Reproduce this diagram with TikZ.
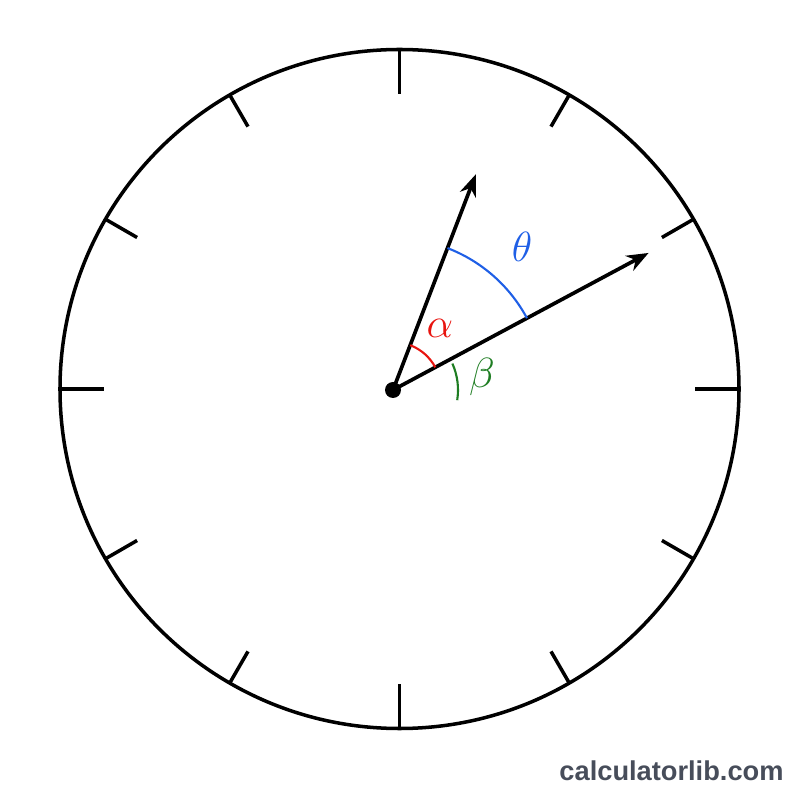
\documentclass[tikz,border=0pt]{standalone}
\usepackage{fontspec}
\newfontfamily\sitefont{Liberation Sans}
\usetikzlibrary{arrows.meta}
\definecolor{alphared}{HTML}{E8140F}
\definecolor{betagreen}{HTML}{1E7D22}
\definecolor{thetablue}{HTML}{1F5FE6}
\definecolor{sitegray}{HTML}{474D5A}
\tikzset{
  hand/.style={line width=1.05pt,-{Stealth[length=6.2pt,width=4.8pt]}},
  anglearc/.style={line width=0.6pt},
  anglelabel/.style={font=\fontsize{12.6}{15}\selectfont},
}
\begin{document}
\begin{tikzpicture}[line width=1pt]
  \useasboundingbox (-3.995,-4.11) rectangle (4.005,3.89);
  % dial
  \draw (0,0) circle (3.395);
  \foreach \a in {0,90,180,270} \draw (\a:3.395) -- (\a:2.95);
  \foreach \a in {30,60,120,150,210,240,300,330} \draw (\a:3.395) -- (\a:3.03);
  % hands
  \coordinate (o) at (-0.065,-0.01);
  \path (o) ++(69:2.31) coordinate (h1);
  \path (o) ++(28.2:2.90) coordinate (h2);
  \draw[hand] (o) -- (h1);
  \draw[hand] (o) -- (h2);
  % angles
  \draw[anglearc,color=thetablue] ([shift={(28.2:1.52)}]o) arc (28.2:69:1.52);
  \draw[anglearc,color=alphared] ([shift={(28.2:0.48)}]o) arc (28.2:69:0.48);
  \draw[anglearc,color=betagreen] ([shift={(-9:0.65)}]o) arc (-9:24:0.65);
  \fill (o) circle (0.08);
  \node[anglelabel,text=thetablue] (theta) at (1.225,1.42) {$\theta$};
  \node[anglelabel,text=alphared] (alpha) at (0.405,0.61) {$\alpha$};
  \node[anglelabel,text=betagreen] (beta) at (0.825,0.12) {$\beta$};
  \node[anchor=base,text=sitegray,font=\sitefont\bfseries\fontsize{7.75}{9}\selectfont] (site) at (2.72,-3.91) {calculatorlib.com};
\end{tikzpicture}
\end{document}
